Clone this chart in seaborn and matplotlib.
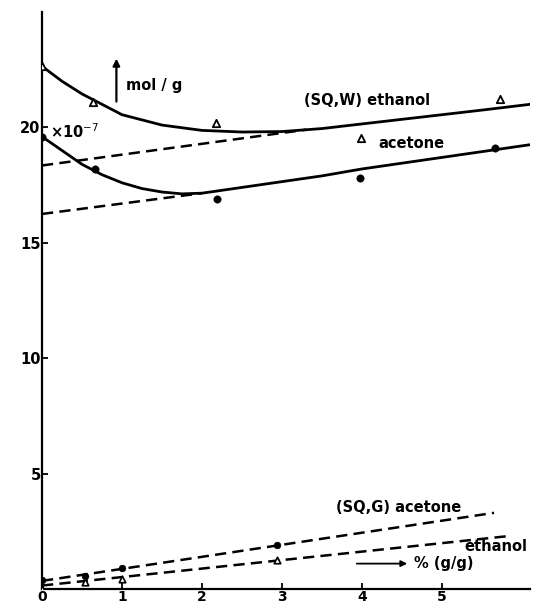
import numpy as np
import pandas as pd
import matplotlib
matplotlib.use("Agg")
import matplotlib.pyplot as plt
import seaborn as sns

# smooth solid curves (SQ,W)
curve_x_eth = [0, 0.25, 0.5, 0.75, 1, 1.5, 2, 2.5, 3, 3.5, 4, 4.5, 5, 5.5, 6.1]
curve_y_eth = [22.65, 22.0, 21.45, 21.0, 20.55, 20.1, 19.87, 19.8, 19.82, 19.95, 20.15, 20.35, 20.55, 20.75, 21.0]
curve_x_ace = [0, 0.25, 0.5, 0.75, 1, 1.25, 1.5, 1.75, 2, 2.5, 3, 3.5, 4, 4.5, 5, 5.5, 6.1]
curve_y_ace = [19.6, 19.0, 18.4, 17.95, 17.6, 17.35, 17.2, 17.12, 17.15, 17.4, 17.65, 17.9, 18.2, 18.45, 18.7, 18.95, 19.25]

# dashed straight lines
dash_x_eth_w = [0, 3.3]
dash_y_eth_w = [18.35, 19.9]
dash_x_ace_w = [0, 2.0]
dash_y_ace_w = [16.25, 17.15]
dash_x_ace_g = [0, 5.65]
dash_y_ace_g = [0.35, 3.3]
dash_x_eth_g = [0, 5.85]
dash_y_eth_g = [0.15, 2.3]

# measured points
pts_x_eth_w = [0, 0.64, 2.17, 3.99, 5.72]
pts_y_eth_w = [22.65, 21.1, 20.2, 19.55, 21.25]
pts_x_ace_w = [0, 0.66, 2.19, 3.97, 5.66]
pts_y_ace_w = [19.6, 18.2, 16.9, 17.8, 19.1]
pts_x_ace_g = [0, 0.54, 1.0, 2.94]
pts_y_ace_g = [0.4, 0.55, 0.92, 1.9]
pts_x_eth_g = [0, 0.54, 1.0, 2.94]
pts_y_eth_g = [0.0, 0.3, 0.45, 1.25]

x_ticks = [0, 1, 2, 3, 4, 5]
x_tick_labels = ["0", "1", "2", "3", "4", "5"]
y_ticks = [5, 10, 15, 20]
y_tick_labels = ["5", "10", "15", "20"]

sns.set_style("ticks")
plt.rcParams['font.family'] = ['DejaVu Sans']

fig = plt.figure(figsize=(5.34, 6.06), dpi=100)
ax = fig.add_axes([42 / 534, 17 / 606, 488 / 534, 577 / 606])

solid = dict(color="black", linewidth=2.0)

sns.lineplot(x=curve_x_eth, y=curve_y_eth, ax=ax, sort=False, **solid)
sns.lineplot(x=curve_x_ace, y=curve_y_ace, ax=ax, sort=False, **solid)
for xs, ys in [(dash_x_eth_w, dash_y_eth_w), (dash_x_ace_w, dash_y_ace_w),
               (dash_x_ace_g, dash_y_ace_g), (dash_x_eth_g, dash_y_eth_g)]:
    sns.lineplot(x=xs, y=ys, ax=ax, color="black", linewidth=1.8)
    ax.lines[-1].set_dashes((4.5, 2.5))

sns.scatterplot(x=pts_x_eth_w, y=pts_y_eth_w, ax=ax, marker="^", s=28,
                facecolor="white", edgecolor="black", linewidth=1.3, zorder=5)
sns.scatterplot(x=pts_x_eth_g, y=pts_y_eth_g, ax=ax, marker="^", s=22,
                facecolor="white", edgecolor="black", linewidth=1.2, zorder=5)
sns.scatterplot(x=pts_x_ace_w, y=pts_y_ace_w, ax=ax, marker="o", s=28,
                color="black", edgecolor="black", zorder=5)
sns.scatterplot(x=pts_x_ace_g, y=pts_y_ace_g, ax=ax, marker="o", s=24,
                color="black", edgecolor="black", zorder=5)

ax.set_xlim(0, 6.1)
ax.set_ylim(0, 25)
sns.despine(ax=ax)
for sp in ["left", "bottom"]:
    ax.spines[sp].set_linewidth(1.6)
    ax.spines[sp].set_color("black")
ax.set_xticks(x_ticks)
ax.set_xticklabels(x_tick_labels, fontsize=10, fontweight="bold")
ax.set_yticks(y_ticks)
ax.set_yticklabels(y_tick_labels, fontsize=10.5, fontweight="bold")
ax.tick_params(direction="in", length=4, width=1.3, pad=1,
               colors="black", labelcolor="black")
ax.set_xlabel("")
ax.set_ylabel("")

txt = dict(fontsize=10.5, fontweight="bold", color="black")
ax.text(0.1, 19.8, "×10$^{-7}$", ha="left", va="center", **txt)
ax.annotate("", xy=(0.93, 23.1), xytext=(0.93, 21.0),
            arrowprops=dict(arrowstyle="-|>", color="black", lw=1.6, mutation_scale=10))
ax.text(1.05, 21.8, "mol / g", ha="left", va="center", **txt)
ax.text(3.28, 21.15, "(SQ,W) ethanol", ha="left", va="center", **txt)
ax.text(4.2, 19.3, "acetone", ha="left", va="center", **txt)
ax.text(3.68, 3.55, "(SQ,G) acetone", ha="left", va="center", **txt)
ax.text(5.28, 1.85, "ethanol", ha="left", va="center", **txt)
ax.annotate("", xy=(4.6, 1.1), xytext=(3.9, 1.1),
            arrowprops=dict(arrowstyle="-|>", color="black", lw=1.3, mutation_scale=9))
ax.text(4.65, 1.1, "% (g/g)", ha="left", va="center", **txt)

fig.savefig("out.png", dpi=100)
